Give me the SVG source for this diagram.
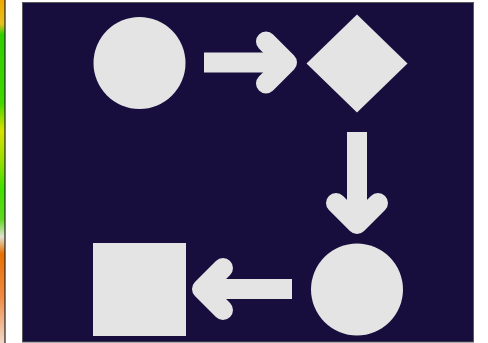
<svg xmlns="http://www.w3.org/2000/svg" width="488" height="343" viewBox="0 0 488 343">
<defs>
<linearGradient id="strip" x1="0" y1="0" x2="0" y2="1">
<stop offset="0" stop-color="#f0a800"/>
<stop offset="0.07" stop-color="#e8c020"/>
<stop offset="0.1" stop-color="#30d000"/>
<stop offset="0.3" stop-color="#40d800"/>
<stop offset="0.38" stop-color="#d8e000"/>
<stop offset="0.46" stop-color="#a0e000"/>
<stop offset="0.55" stop-color="#40e000"/>
<stop offset="0.64" stop-color="#60d820"/>
<stop offset="0.69" stop-color="#e0e0d0"/>
<stop offset="0.74" stop-color="#e87000"/>
<stop offset="0.86" stop-color="#f08840"/>
<stop offset="1" stop-color="#f0d8c8"/>
</linearGradient>
<style>
.shape{fill:#e4e4e4}
.shaft{stroke:#e4e4e4;stroke-width:20;stroke-linecap:butt;fill:none}
.head{stroke:#e4e4e4;stroke-width:20;stroke-linecap:round;stroke-linejoin:round;fill:none}
</style>
</defs>
<rect x="0" y="0" width="488" height="343" fill="#ffffff"/>
<rect x="0" y="0" width="5" height="343" fill="url(#strip)"/>
<line x1="5" y1="0" x2="5" y2="343" stroke="#222" stroke-width="1.2"/>
<rect x="22.5" y="2.5" width="451" height="339.5" fill="#170e3e" stroke="#5a5a5a" stroke-width="1"/>
<g id="node-circle-top">
<circle class="shape" cx="139.5" cy="63" r="46"/>
</g>
<g id="node-diamond">
<polygon class="shape" points="357,14.5 407.5,63.5 357,112.5 306.5,63.5"/>
</g>
<g id="node-circle-bottom">
<circle class="shape" cx="357" cy="289.5" r="46"/>
</g>
<g id="node-square">
<rect class="shape" x="93" y="243" width="93" height="93"/>
</g>
<g id="connectors">
<line class="shaft" x1="204" y1="62.5" x2="284" y2="62.5"/>
<polyline class="head" points="266,41.5 287,62.5 266,83.5"/>
<line class="shaft" x1="357" y1="132" x2="357" y2="220"/>
<polyline class="head" points="336,203 357,224 378,203"/>
<line class="shaft" x1="292" y1="289" x2="206" y2="289"/>
<polyline class="head" points="223,268 202,289 223,310"/>
</g>
</svg>
